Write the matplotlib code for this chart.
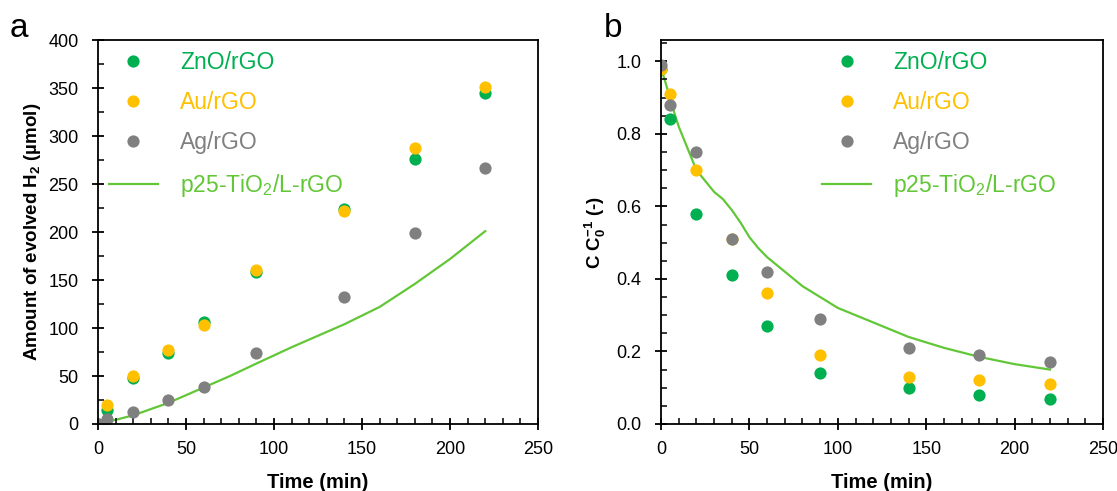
import numpy as np
import matplotlib.pyplot as plt
from matplotlib.ticker import MultipleLocator

plt.rcParams['font.family'] = ['Liberation Sans', 'DejaVu Sans']
plt.rcParams['mathtext.fontset'] = 'custom'
plt.rcParams['mathtext.rm'] = 'Liberation Sans'
plt.rcParams['mathtext.it'] = 'Liberation Sans'
plt.rcParams['mathtext.bf'] = 'Liberation Sans:bold'

# ─── data ────────────────────────────────────────────────────────
t_pts = [0, 5, 20, 40, 60, 90, 140, 180, 220]

# (a) evolved H2, µmol
h2_zno = [0, 15, 48, 74, 106, 158, 224, 276, 345]
h2_au  = [0, 20, 50, 77, 103, 161, 222, 288, 351]
h2_ag  = [0, 5, 12, 25, 39, 74, 132, 199, 267]
t_line_a = [5, 20, 40, 60, 75, 90, 110, 125, 140, 160, 180, 200, 220]
h2_p25   = [2, 9, 22, 38, 50, 63, 80, 92, 104, 122, 146, 172, 201]

# (b) C/C0
c_zno = [0.98, 0.84, 0.58, 0.41, 0.27, 0.14, 0.10, 0.08, 0.07]
c_au  = [0.98, 0.91, 0.70, 0.51, 0.36, 0.19, 0.13, 0.12, 0.11]
c_ag  = [0.99, 0.88, 0.75, 0.51, 0.42, 0.29, 0.21, 0.19, 0.17]
t_line_b = [0, 2, 5, 8, 10, 15, 20, 25, 30, 35, 40, 45, 50, 55, 60, 70,
            80, 90, 100, 120, 140, 160, 180, 200, 220]
c_p25    = [0.98, 0.95, 0.90, 0.85, 0.82, 0.76, 0.70, 0.67, 0.64, 0.62,
            0.59, 0.555, 0.515, 0.485, 0.46, 0.42, 0.38, 0.35, 0.32,
            0.28, 0.24, 0.21, 0.185, 0.165, 0.15]

labels = ['ZnO/rGO', 'Au/rGO', 'Ag/rGO', 'p25-TiO$_2$/L-rGO']
c_green, c_orange, c_grey, c_line = '#00B050', '#FFC000', '#808080', '#62C737'

# ─── figure ──────────────────────────────────────────────────────
fig = plt.figure(figsize=(11.17, 4.91), dpi=100)
ax_a = fig.add_axes([0.0877, 0.1365, 0.394, 0.7815])
ax_b = fig.add_axes([0.5918, 0.1365, 0.3957, 0.7815])


def draw(ax, y_zno, y_au, y_ag, tl, yl, leg_x):
    ax.plot(tl, yl, '-', color=c_line, lw=1.6, label=labels[3], zorder=1)
    ax.plot(t_pts, y_zno, 'o', color=c_green, ms=8.8, mew=0, label=labels[0])
    ax.plot(t_pts, y_au, 'o', color=c_orange, ms=8.8, mew=0, label=labels[1])
    ax.plot(t_pts, y_ag, 'o', color=c_grey, ms=8.8, mew=0, label=labels[2])
    ax.set_xlim(0, 250)
    ax.xaxis.set_major_locator(MultipleLocator(50))
    ax.xaxis.set_minor_locator(MultipleLocator(10))
    ax.tick_params(which='major', direction='inout', length=8, width=1.3,
                   labelsize=13)
    ax.tick_params(axis='x', which='major', pad=8)
    ax.tick_params(axis='y', which='major', pad=10)
    ax.tick_params(which='minor', direction='in', length=4, width=1.1)
    for s in ax.spines.values():
        s.set_linewidth(1.3)
    ax.set_xlabel('Time (min)', fontsize=14.5, fontweight='bold', labelpad=11)
    h, l = ax.get_legend_handles_labels()
    order = [1, 2, 3, 0]
    ax.legend([h[i] for i in order], [l[i] for i in order],
              loc='upper left', bbox_to_anchor=(leg_x, 0.972),
              frameon=False, fontsize=16.5, numpoints=1,
              handlelength=2.14, handletextpad=0.96, labelspacing=0.75,
              borderpad=0, borderaxespad=0, labelcolor='linecolor')


draw(ax_a, h2_zno, h2_au, h2_ag, t_line_a, h2_p25, 0.025)
ax_a.set_ylim(0, 400)
ax_a.yaxis.set_major_locator(MultipleLocator(50))
ax_a.yaxis.set_minor_locator(MultipleLocator(25))
ax_a.set_ylabel(r'Amount of evolved H$_\mathbf{2}$ (µmol)', fontsize=13.5,
                fontweight='bold', labelpad=4)

draw(ax_b, c_zno, c_au, c_ag, t_line_b, c_p25, 0.365)
ax_b.set_ylim(0, 1.058)
ax_b.yaxis.set_major_locator(MultipleLocator(0.2))
ax_b.yaxis.set_minor_locator(MultipleLocator(0.05))
ax_b.yaxis.set_major_formatter(plt.FormatStrFormatter('%.1f'))
ax_b.set_ylabel(r'C C$_\mathbf{0}^\mathbf{-1}$ (-)', fontsize=13.5,
                fontweight='bold', labelpad=6)

fig.text(0.009, 0.925, 'a', fontsize=24)
fig.text(0.541, 0.925, 'b', fontsize=24)

fig.savefig('out.png', dpi=100)
